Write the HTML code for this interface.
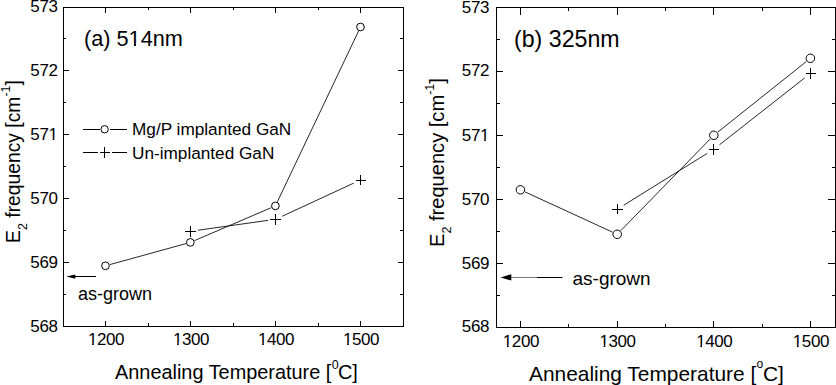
<!DOCTYPE html>
<html><head><meta charset="utf-8"><style>
html,body{margin:0;padding:0;background:#fff;width:836px;height:385px;overflow:hidden}
svg{display:block}
text{font-family:"Liberation Sans",sans-serif;fill:#000}
.tk{letter-spacing:-0.4px}
</style></head><body>
<svg width="836" height="385" viewBox="0 0 836 385">
<g fill="#000"><rect x="63" y="7" width="341" height="1"/><rect x="63" y="326" width="341" height="1"/><rect x="63" y="7" width="1" height="320"/><rect x="403" y="7" width="1" height="320"/><rect x="105" y="321" width="1" height="5"/><rect x="105" y="8" width="1" height="5"/><rect x="190" y="321" width="1" height="5"/><rect x="190" y="8" width="1" height="5"/><rect x="275" y="321" width="1" height="5"/><rect x="275" y="8" width="1" height="5"/><rect x="360" y="321" width="1" height="5"/><rect x="360" y="8" width="1" height="5"/><rect x="148" y="323" width="1" height="3"/><rect x="148" y="8" width="1" height="2"/><rect x="233" y="323" width="1" height="3"/><rect x="233" y="8" width="1" height="2"/><rect x="318" y="323" width="1" height="3"/><rect x="318" y="8" width="1" height="2"/><rect x="64" y="70" width="5" height="1"/><rect x="398" y="70" width="5" height="1"/><rect x="64" y="134" width="5" height="1"/><rect x="398" y="134" width="5" height="1"/><rect x="64" y="198" width="5" height="1"/><rect x="398" y="198" width="5" height="1"/><rect x="64" y="262" width="5" height="1"/><rect x="398" y="262" width="5" height="1"/><rect x="64" y="38" width="2" height="1"/><rect x="400" y="38" width="3" height="1"/><rect x="64" y="102" width="2" height="1"/><rect x="400" y="102" width="3" height="1"/><rect x="64" y="166" width="2" height="1"/><rect x="400" y="166" width="3" height="1"/><rect x="64" y="230" width="2" height="1"/><rect x="400" y="230" width="3" height="1"/><rect x="64" y="294" width="2" height="1"/><rect x="400" y="294" width="3" height="1"/></g>
<text x="106.0" y="345" class="tk" text-anchor="middle" font-size="17">1200</text>
<text x="191.0" y="345" class="tk" text-anchor="middle" font-size="17">1300</text>
<text x="276.0" y="345" class="tk" text-anchor="middle" font-size="17">1400</text>
<text x="361.0" y="345" class="tk" text-anchor="middle" font-size="17">1500</text>
<text x="57.5" y="332.3" class="tk" text-anchor="end" font-size="17">568</text>
<text x="57.5" y="268.3" class="tk" text-anchor="end" font-size="17">569</text>
<text x="57.5" y="204.3" class="tk" text-anchor="end" font-size="17">570</text>
<text x="57.5" y="140.3" class="tk" text-anchor="end" font-size="17">571</text>
<text x="57.5" y="76.3" class="tk" text-anchor="end" font-size="17">572</text>
<text x="57.5" y="12.3" class="tk" text-anchor="end" font-size="17">573</text>
<line x1="109.84" y1="264.60" x2="185.96" y2="243.60" stroke="#000" stroke-width="0.85"/>
<line x1="194.44" y1="240.63" x2="271.26" y2="207.67" stroke="#000" stroke-width="0.85"/>
<line x1="277.33" y1="201.84" x2="358.57" y2="31.06" stroke="#000" stroke-width="0.85"/>
<line x1="197.83" y1="230.25" x2="268.17" y2="220.35" stroke="#000" stroke-width="0.85"/>
<line x1="282.41" y1="216.15" x2="353.69" y2="183.15" stroke="#000" stroke-width="0.85"/>
<circle cx="105.5" cy="265.8" r="3.85" fill="none" stroke="#000" stroke-width="1"/>
<circle cx="190.3" cy="242.4" r="3.85" fill="none" stroke="#000" stroke-width="1"/>
<circle cx="275.4" cy="205.9" r="3.85" fill="none" stroke="#000" stroke-width="1"/>
<circle cx="360.5" cy="27" r="3.85" fill="none" stroke="#000" stroke-width="1"/>
<g fill="#000"><rect x="185" y="231" width="11" height="1"/><rect x="190" y="226" width="1" height="11"/></g>
<g fill="#000"><rect x="270" y="219" width="11" height="1"/><rect x="275" y="214" width="1" height="11"/></g>
<g fill="#000"><rect x="356" y="180" width="10" height="1"/><rect x="360" y="175" width="1" height="10"/></g>
<text x="84" y="45.8" font-size="21.7">(a) 514nm</text>
<g fill="#000"><rect x="83" y="129" width="17" height="1"/><rect x="110" y="129" width="17" height="1"/><rect x="83" y="152" width="15" height="1"/><rect x="112" y="152" width="15" height="1"/></g>
<circle cx="104.6" cy="129.3" r="3.7" fill="none" stroke="#000" stroke-width="1"/>
<g fill="#000"><rect x="100" y="152" width="10" height="1"/><rect x="104" y="147" width="1" height="11"/></g>
<text x="132" y="135" font-size="17.2">Mg/P implanted GaN</text>
<text x="132" y="159" font-size="17.2">Un-implanted GaN</text>
<rect x="74" y="276" width="22" height="1" fill="#000"/><path d="M66.3 276.6L75.3 274.4V278.8Z" fill="#000"/>
<text x="78" y="299.7" font-size="18">as-grown</text>
<text x="115" y="378.8" font-size="19.9">Annealing Temperature [<tspan dy="-9.5" dx="0.3" font-size="12.5">0</tspan><tspan dy="9.5" dx="-0.6">C]</tspan></text>
<text transform="translate(20 242.9) rotate(-90)" font-size="19.3">E<tspan dy="7" font-size="12.5">2</tspan><tspan dy="-7"> frequency [cm</tspan><tspan dy="-10" font-size="12.5">-1</tspan><tspan dy="10">]</tspan></text>
<g fill="#000"><rect x="496" y="7" width="340" height="1"/><rect x="496" y="327" width="340" height="1"/><rect x="496" y="7" width="1" height="321"/><rect x="835" y="7" width="1" height="321"/><rect x="520" y="321" width="1" height="6"/><rect x="520" y="8" width="1" height="7"/><rect x="617" y="321" width="1" height="6"/><rect x="617" y="8" width="1" height="7"/><rect x="713" y="321" width="1" height="6"/><rect x="713" y="8" width="1" height="7"/><rect x="810" y="321" width="1" height="6"/><rect x="810" y="8" width="1" height="7"/><rect x="568" y="324" width="1" height="3"/><rect x="568" y="8" width="1" height="3"/><rect x="665" y="324" width="1" height="3"/><rect x="665" y="8" width="1" height="3"/><rect x="762" y="324" width="1" height="3"/><rect x="762" y="8" width="1" height="3"/><rect x="497" y="71" width="6" height="1"/><rect x="828" y="71" width="7" height="1"/><rect x="497" y="135" width="6" height="1"/><rect x="828" y="135" width="7" height="1"/><rect x="497" y="199" width="6" height="1"/><rect x="828" y="199" width="7" height="1"/><rect x="497" y="263" width="6" height="1"/><rect x="828" y="263" width="7" height="1"/><rect x="497" y="39" width="3" height="1"/><rect x="832" y="39" width="3" height="1"/><rect x="497" y="103" width="3" height="1"/><rect x="832" y="103" width="3" height="1"/><rect x="497" y="167" width="3" height="1"/><rect x="832" y="167" width="3" height="1"/><rect x="497" y="231" width="3" height="1"/><rect x="832" y="231" width="3" height="1"/><rect x="497" y="295" width="3" height="1"/><rect x="832" y="295" width="3" height="1"/></g>
<text x="520.9" y="347" class="tk" text-anchor="middle" font-size="17">1200</text>
<text x="617.5699999999999" y="347" class="tk" text-anchor="middle" font-size="17">1300</text>
<text x="714.24" y="347" class="tk" text-anchor="middle" font-size="17">1400</text>
<text x="810.91" y="347" class="tk" text-anchor="middle" font-size="17">1500</text>
<text x="489" y="332.1" class="tk" text-anchor="end" font-size="17">568</text>
<text x="489" y="269.1" class="tk" text-anchor="end" font-size="17">569</text>
<text x="489" y="205.1" class="tk" text-anchor="end" font-size="17">570</text>
<text x="489" y="141.1" class="tk" text-anchor="end" font-size="17">571</text>
<text x="489" y="76.1" class="tk" text-anchor="end" font-size="17">572</text>
<text x="489" y="13.0" class="tk" text-anchor="end" font-size="17">573</text>
<line x1="524.94" y1="191.89" x2="612.66" y2="232.21" stroke="#000" stroke-width="0.85"/>
<line x1="620.69" y1="230.72" x2="710.31" y2="138.88" stroke="#000" stroke-width="0.85"/>
<line x1="717.71" y1="132.18" x2="806.49" y2="61.42" stroke="#000" stroke-width="0.85"/>
<line x1="623.67" y1="205.24" x2="707.23" y2="153.36" stroke="#000" stroke-width="0.85"/>
<line x1="719.50" y1="144.77" x2="804.70" y2="77.93" stroke="#000" stroke-width="0.85"/>
<circle cx="520.4" cy="189.8" r="4.25" fill="none" stroke="#000" stroke-width="1"/>
<circle cx="617.2" cy="234.3" r="4.25" fill="none" stroke="#000" stroke-width="1"/>
<circle cx="713.8" cy="135.3" r="4.25" fill="none" stroke="#000" stroke-width="1"/>
<circle cx="810.4" cy="58.3" r="4.25" fill="none" stroke="#000" stroke-width="1"/>
<g fill="#000"><rect x="612" y="209" width="11" height="1"/><rect x="617" y="204" width="1" height="10"/></g>
<g fill="#000"><rect x="709" y="149" width="10" height="1"/><rect x="713" y="144" width="1" height="11"/></g>
<g fill="#000"><rect x="806" y="73" width="10" height="1"/><rect x="810" y="68" width="1" height="11"/></g>
<text x="514" y="46.8" font-size="23.2">(b) 325nm</text>
<rect x="510" y="277" width="27" height="1" fill="#777"/><rect x="537" y="277" width="25.5" height="1" fill="#000"/><path d="M500.5 277.4L511.3 274.2V280.6Z" fill="#000"/>
<text x="572.5" y="284.7" font-size="19">as-grown</text>
<text x="529" y="380.5" font-size="20.9">Annealing Temperature [<tspan dy="-12.3" dx="0.3" font-size="12">o</tspan><tspan dy="12.3" dx="-0.3">C]</tspan></text>
<text transform="translate(444 247) rotate(-90)" font-size="20.1">E<tspan dy="7" font-size="12.5">2</tspan><tspan dy="-7"> frequency [cm</tspan><tspan dy="-10" font-size="12.5">-1</tspan><tspan dy="10">]</tspan></text>
<g fill="#fff"><rect x="88.39" y="342.73" width="3.68" height="2.87"/><rect x="93.77" y="342.73" width="3.35" height="2.87"/><rect x="173.39" y="342.73" width="3.68" height="2.87"/><rect x="178.77" y="342.73" width="3.35" height="2.87"/><rect x="258.39" y="342.73" width="3.68" height="2.87"/><rect x="263.77" y="342.73" width="3.35" height="2.87"/><rect x="343.39" y="342.73" width="3.68" height="2.87"/><rect x="348.77" y="342.73" width="3.35" height="2.87"/><rect x="48.92" y="138.03" width="3.68" height="2.87"/><rect x="54.3" y="138.03" width="3.35" height="2.87"/><rect x="129.43" y="43.18" width="4.5" height="3.22"/><rect x="136.05" y="43.18" width="4.13" height="3.22"/><rect x="503.29" y="344.73" width="3.68" height="2.87"/><rect x="508.67" y="344.73" width="3.35" height="2.87"/><rect x="599.96" y="344.73" width="3.68" height="2.87"/><rect x="605.34" y="344.73" width="3.35" height="2.87"/><rect x="696.63" y="344.73" width="3.68" height="2.87"/><rect x="702.01" y="344.73" width="3.35" height="2.87"/><rect x="793.3" y="344.73" width="3.68" height="2.87"/><rect x="798.68" y="344.73" width="3.35" height="2.87"/><rect x="480.42" y="138.83" width="3.68" height="2.87"/><rect x="485.8" y="138.83" width="3.35" height="2.87"/></g>
</svg>
</body></html>
